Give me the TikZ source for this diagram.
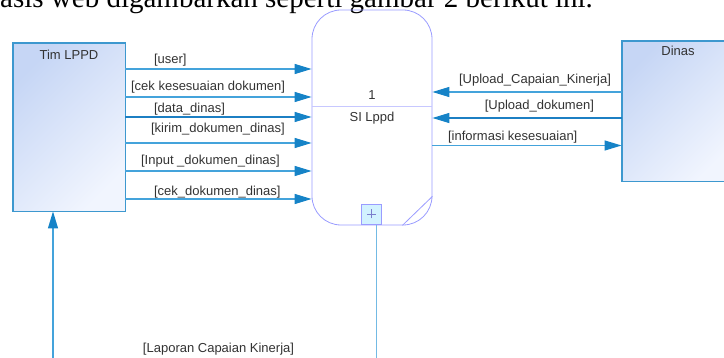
\documentclass[tikz,border=0pt]{standalone}
\usepackage{fontspec}
\setmainfont{Liberation Sans}
\newfontfamily\bodyserif{Liberation Serif}
\usepackage{tikz}
\usetikzlibrary{positioning,arrows.meta,calc}
\definecolor{cFlow}{HTML}{44A3DB}
\definecolor{cFlowDark}{HTML}{1C7FC3}
\definecolor{cHead}{HTML}{1683C7}
\definecolor{cProc}{HTML}{9A9CFF}
\definecolor{cBoxTop}{HTML}{C6D6F5}
\definecolor{cBoxBot}{HTML}{F1F5FE}
\definecolor{cEdge}{HTML}{3D98CF}
\definecolor{cPlus}{HTML}{D2F2FF}
\definecolor{cText}{HTML}{333333}

\begin{document}
\begin{tikzpicture}[
  x=1pt,y=-1pt,
  font=\fontsize{13}{15}\selectfont,
  entity/.style={top color=cBoxTop,bottom color=cBoxBot,shading angle=45,
    draw=cEdge,line width=0.9pt,minimum width=112pt,inner sep=0},
  proc/.style={draw=cProc,line width=0.8pt,rounded corners=29pt,
    minimum width=120pt,minimum height=215pt,inner sep=0},
  plusbox/.style={draw=cProc,fill=cPlus,line width=0.7pt,minimum size=20pt,inner sep=0},
  lbl/.style={inner sep=0,text=cText},
  flow/.style={-{Triangle[length=17pt,width=10pt,color=cHead]},draw=cFlow,line width=1.3pt},
  flowdark/.style={flow,draw=cFlowDark}
]
\clip (0,0) rectangle (724,358);
\useasboundingbox (0,0) rectangle (724,358);
% text of the page above the figure
\node[anchor=base west,inner sep=0,font=\bodyserif\fontsize{29}{34}\selectfont]
     (caption) at (0,7.5) {asis web digambarkan seperti gambar 2 berikut ini.};
% entities
\node[entity,minimum height=168pt,label={[lbl,anchor=north,yshift=-7.5pt]north:Tim LPPD}]
     (tim) at (69,127) {};
\node[entity,minimum height=140pt,label={[lbl,anchor=north,yshift=-5.5pt]north:Dinas}]
     (dinas) at (678,111) {};
\draw[cEdge,line width=0.9pt] (tim.south west) rectangle (tim.north east)
     (dinas.south west) rectangle (dinas.north east);
% process
\node[proc] (sp) at (372,117.5) {};
\draw[cProc!55,line width=0.8pt] (sp.west |- 0,106) -- (sp.east |- 0,106);
\node[lbl,anchor=base] (spnum) at (372,100) {1};
\node[lbl,anchor=base] (spname) at (372,122) {SI Lppd};
\draw[cProc,line width=0.8pt] ([xshift=-30pt]sp.south east) -- ([yshift=29pt]sp.south east);
\node[plusbox] (spx) at (371.5,214) {};
\draw[cProc!80!black,line width=0.7pt] ([xshift=-4.5pt]spx.center) -- ([xshift=4.5pt]spx.center)
     ([yshift=-4.5pt]spx.center) -- ([yshift=4.5pt]spx.center);
% Tim LPPD -> SI Lppd
\draw[flow] (tim.east |- 0,69) -- node[lbl,at start,anchor=south west,xshift=28pt,yshift=2.3pt] {[user]} (sp.west |- 0,69);
\draw[flow] (tim.east |- 0,97) -- node[lbl,at start,anchor=south west,xshift=5pt,yshift=2.7pt] {[cek kesesuaian dokumen]} (sp.west |- 0,97);
\draw[flowdark] (tim.east |- 0,117) -- node[lbl,at start,anchor=south west,xshift=28pt,yshift=1pt] {[data\_dinas]} (sp.west |- 0,117);
\draw[flow] (tim.east |- 0,143) -- node[lbl,at start,anchor=south west,xshift=25pt,yshift=7pt] {[kirim\_dokumen\_dinas]} (sp.west |- 0,143);
\draw[flow] (tim.east |- 0,171) -- node[lbl,at start,anchor=south west,xshift=15pt,yshift=2.7pt] {[Input \_dokumen\_dinas]} (sp.west |- 0,171);
\draw[flow] (tim.east |- 0,199) -- node[lbl,at start,anchor=south west,xshift=28pt,yshift=0pt] {[cek\_dokumen\_dinas]} (sp.west |- 0,199);
% Dinas <-> SI Lppd
\draw[flow] (dinas.west |- 0,92) -- node[lbl,at start,anchor=south east,xshift=-10pt,yshift=4.7pt] {[Upload\_Capaian\_Kinerja]} (sp.east |- 0,92);
\draw[flowdark] (dinas.west |- 0,118) -- node[lbl,at start,anchor=south east,xshift=-27pt,yshift=4.7pt] {[Upload\_dokumen]} (sp.east |- 0,118);
\draw[flow] (sp.east |- 0,145.5) -- node[lbl,at start,anchor=south west,xshift=15pt,yshift=1.5pt] {[informasi kesesuaian]} (dinas.west |- 0,145.5);
% laporan loop below
\coordinate (lapin) at (53,358);
\coordinate (lapout) at (376.5,358);
\draw[flow] (lapin) -- (lapin |- tim.south);
\draw[cFlow!75,line width=1.3pt] (lapout |- sp.south) -- (lapout);
\node[lbl,anchor=south] (laplbl) at (218.5,355.5) {[Laporan Capaian Kinerja]};
\end{tikzpicture}
\end{document}
